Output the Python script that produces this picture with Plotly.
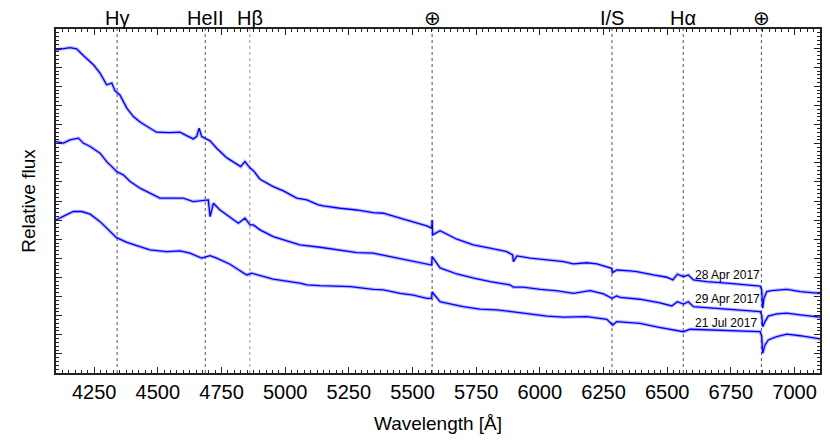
import plotly.graph_objects as go

# spectra (wavelength in Angstrom, relative flux with offsets)
wl_apr28 = [4100, 4155, 4181, 4207, 4247, 4273, 4299, 4319, 4332, 4351, 4378, 4404, 4430, 4469,
            4495, 4548, 4587, 4613, 4639, 4652, 4662, 4672, 4705, 4731, 4770, 4810, 4825, 4842,
            4862, 4875, 4901, 4953, 4993, 5045, 5085, 5130, 5150, 5215, 5281, 5346, 5386, 5438,
            5503, 5556, 5575, 5577, 5579, 5608, 5674, 5739, 5805, 5870, 5893, 5896, 5910, 5962,
            6027, 6093, 6132, 6184, 6224, 6263, 6282, 6285, 6302, 6354, 6381, 6446, 6499, 6522,
            6540, 6564, 6583, 6603, 6655, 6734, 6813, 6865, 6871, 6875, 6880, 6891, 6910, 6970,
            7022, 7100]
fx_apr28 = [16.91, 17.03, 16.96, 16.61, 16.13, 15.69, 15.08, 15.17, 14.76, 14.55, 13.86, 13.42,
            13.13, 12.81, 12.60, 12.58, 12.60, 12.42, 12.25, 12.37, 12.81, 12.37, 12.15, 11.76,
            11.27, 10.93, 10.80, 11.06, 10.72, 10.59, 10.14, 9.75, 9.53, 9.15, 9.06, 8.80, 8.74,
            8.62, 8.53, 8.39, 8.36, 8.15, 7.92, 7.70, 7.58, 8.01, 7.23, 7.45, 7.00, 6.70, 6.53,
            6.35, 6.18, 5.83, 6.13, 6.01, 5.92, 5.83, 5.71, 5.77, 5.71, 5.57, 5.48, 5.25, 5.39,
            5.34, 5.30, 5.13, 5.01, 4.87, 5.17, 5.04, 5.13, 4.87, 4.78, 4.70, 4.61, 4.55, 4.35,
            3.39, 3.91, 4.26, 4.31, 4.38, 4.26, 4.17]

wl_apr29 = [4100, 4129, 4155, 4188, 4207, 4234, 4273, 4299, 4319, 4338, 4364, 4391, 4430, 4469,
            4508, 4561, 4600, 4639, 4679, 4698, 4705, 4718, 4744, 4783, 4816, 4842, 4862, 4875,
            4901, 4953, 5019, 5058, 5137, 5215, 5281, 5346, 5412, 5478, 5543, 5575, 5577, 5608,
            5674, 5739, 5805, 5883, 5896, 5935, 6001, 6066, 6132, 6197, 6250, 6283, 6302, 6315,
            6393, 6468, 6518, 6540, 6564, 6583, 6603, 6682, 6774, 6865, 6871, 6875, 6884, 6897,
            6930, 6970, 7022, 7100]
fx_apr29 = [12.11, 12.03, 12.20, 12.29, 12.03, 11.85, 11.50, 11.06, 10.80, 10.54, 10.37, 10.02,
            9.67, 9.41, 9.15, 9.15, 9.15, 8.97, 9.01, 9.06, 8.18, 8.88, 8.53, 8.18, 7.84, 8.10,
            7.75, 7.75, 7.49, 7.14, 6.87, 6.70, 6.58, 6.44, 6.30, 6.27, 6.09, 5.95, 5.74, 5.65,
            6.09, 5.50, 5.18, 4.96, 4.78, 4.61, 4.49, 4.49, 4.38, 4.31, 4.17, 4.31, 4.14, 3.91,
            4.03, 3.96, 3.86, 3.68, 3.51, 3.73, 3.61, 3.73, 3.47, 3.39, 3.30, 3.21, 3.04, 2.42,
            2.69, 2.98, 3.09, 3.13, 3.04, 2.92]

wl_jul21 = [4100, 4129, 4168, 4201, 4234, 4273, 4312, 4338, 4378, 4430, 4469, 4535, 4587, 4626,
            4672, 4705, 4731, 4783, 4823, 4849, 4868, 4953, 5058, 5085, 5137, 5215, 5255, 5346,
            5386, 5451, 5503, 5556, 5575, 5577, 5608, 5634, 5699, 5765, 5831, 5889, 5962, 6027,
            6093, 6184, 6263, 6286, 6302, 6354, 6393, 6468, 6537, 6564, 6590, 6682, 6774, 6865,
            6871, 6875, 6884, 6897, 6930, 6970, 7022, 7100]
fx_jul21 = [8.01, 8.18, 8.45, 8.45, 8.31, 7.92, 7.40, 7.08, 6.84, 6.61, 6.44, 6.35, 6.39, 6.27,
            6.01, 6.14, 6.01, 5.69, 5.36, 5.13, 5.22, 4.91, 4.70, 4.61, 4.57, 4.52, 4.52, 4.38,
            4.35, 4.17, 4.08, 3.91, 3.91, 4.24, 3.73, 3.65, 3.47, 3.34, 3.30, 3.21, 3.09, 2.98,
            2.92, 2.95, 2.81, 2.51, 2.69, 2.63, 2.60, 2.39, 2.21, 2.16, 2.29, 2.25, 2.21, 2.16,
            1.94, 1.03, 1.47, 1.73, 1.90, 2.03, 1.95, 1.78]

# marked features
line_wl = [4340, 4686, 4861, 5577, 6283, 6563, 6870]
line_names = ['Hγ', 'HeII', 'Hβ', '⊕', 'I/S', 'Hα', '⊕']

dates = ['28 Apr 2017', '29 Apr 2017', '21 Jul 2017']
date_y = [5.13, 3.87, 2.60]

FONT = 'Liberation Sans, Arial, Helvetica, sans-serif'

fig = go.Figure()

for wl, fx in [(wl_apr28, fx_apr28), (wl_apr29, fx_apr29), (wl_jul21, fx_jul21)]:
    # faint halo to suggest the noise band
    fig.add_trace(go.Scatter(x=wl, y=fx, mode='lines', hoverinfo='skip',
                             line=dict(color='rgba(60,60,255,0.35)', width=3.5)))
    fig.add_trace(go.Scatter(x=wl, y=fx, mode='lines',
                             line=dict(color='#0000ff', width=1.3)))

# dotted feature markers with labels on top
for wl, name in zip(line_wl, line_names):
    col = '#aaaaaa' if name == 'Hβ' else '#555555'
    fig.add_shape(type='line', x0=wl, x1=wl, y0=0, y1=1, xref='x', yref='paper',
                  line=dict(color=col, width=1.2 if name == 'Hβ' else 1, dash='dot'),
                  layer='below')
    fig.add_annotation(x=wl, y=1.032, xref='x', yref='paper', text=name, showarrow=False,
                       yanchor='middle', font=dict(size=20, color='black', family=FONT))

for txt, y in zip(dates, date_y):
    fig.add_annotation(x=6602, y=y, xref='x', yref='y', text=txt, showarrow=False,
                       xanchor='left', yanchor='middle',
                       font=dict(size=12, color='black', family=FONT))

fig.update_xaxes(range=[4100, 7100], tickvals=list(range(4250, 7001, 250)),
                 ticks='inside', ticklen=6, tickwidth=1, tickcolor='#222',
                 showline=True, linecolor='#222', linewidth=1.5, mirror='allticks',
                 showgrid=False, zeroline=False, automargin=False,
                 minor=dict(dtick=25, ticks='inside', ticklen=3, tickcolor='#222', showgrid=False),
                 title=dict(text='Wavelength [Å]', standoff=15, font=dict(size=19)),
                 tickfont=dict(size=20))
fig.update_yaxes(range=[0, 18], dtick=1, showticklabels=False,
                 ticks='inside', ticklen=6, tickwidth=1, tickcolor='#222',
                 showline=True, linecolor='#222', linewidth=1.5, mirror='allticks',
                 showgrid=False, zeroline=False, automargin=False,
                 minor=dict(dtick=0.2, ticks='inside', ticklen=3, tickcolor='#222', showgrid=False),
                 title=dict(text='Relative flux', standoff=14, font=dict(size=19)))

# the page body adds an 8px offset, so the figure is a bit smaller than the window
fig.update_layout(width=822, height=432, showlegend=False,
                  paper_bgcolor='white', plot_bgcolor='white',
                  font=dict(family=FONT, size=18, color='black'),
                  margin=dict(l=48, r=10, t=21, b=67))

fig.write_html('out.html')
